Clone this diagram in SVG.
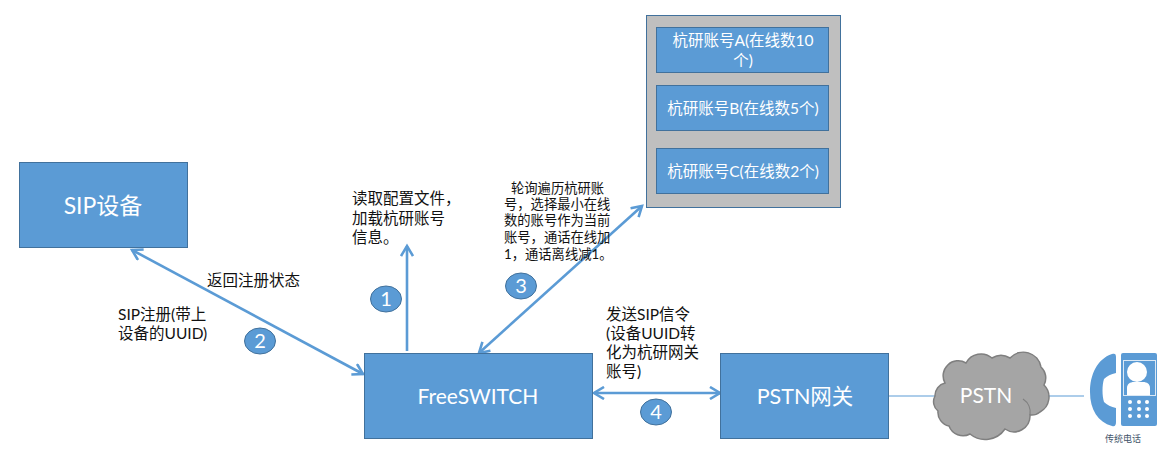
<svg xmlns="http://www.w3.org/2000/svg" width="1174" height="475" viewBox="0 0 1174 475">
<style>
text{font-family:"Lato","Noto Sans CJK SC",sans-serif}
.box{fill:#5B9BD5;stroke:#41719C;stroke-width:1}
.w{fill:#fff;text-anchor:middle}
.k{fill:#111;font-size:15.500px}
.s{fill:#111;font-size:13.300px}
.c{fill:none;stroke:#5B9BD5;stroke-width:2.600}
.h{fill:none;stroke:#5B9BD5;stroke-width:2.600}
.t{stroke:#5B9BD5;stroke-width:1;fill:none}
.b{fill:#5B9BD5;stroke:#41719C;stroke-width:1}
</style>
<defs>
<marker id="a" markerWidth="14" markerHeight="14" refX="11" refY="7" orient="auto-start-reverse" markerUnits="userSpaceOnUse"><path d="M1 1L11 7L1 13" class="h"/></marker>
</defs>
<rect width="1174" height="475" fill="#fff"/>
<g id="connectors">
<path class="c" d="M132 250L363 374" marker-start="url(#a)" marker-end="url(#a)"/>
<path class="c" d="M407 351V246" marker-end="url(#a)"/>
<path class="c" d="M479 353L642 206" marker-start="url(#a)" marker-end="url(#a)"/>
<path class="c" d="M594 393H720" marker-start="url(#a)" marker-end="url(#a)"/>
<path class="t" d="M889 396H936M1046 396H1084"/>
</g>
<g id="sip"><rect class="box" x="19.500" y="162.500" width="168" height="85"/><text class="w" x="103" y="214" font-size="23">SIP设备</text></g>
<g id="freeswitch"><rect class="box" x="364.500" y="353.500" width="228" height="85"/><text class="w" x="478" y="404" font-size="21">FreeSWITCH</text></g>
<g id="gateway"><rect class="box" x="720.500" y="353.500" width="168" height="85"/><text class="w" x="805" y="404" font-size="21.500">PSTN网关</text></g>
<g id="accounts"><rect x="646.500" y="15.500" width="194" height="192" fill="#BFBFBF" stroke="#41719C"/></g>
<g id="accountA"><rect class="box" x="656.500" y="27.500" width="172" height="45"/><text class="w" x="743" y="46" font-size="15.500">杭研账号A(在线数10</text><text class="w" x="743" y="66" font-size="15.500">个)</text></g>
<g id="accountB"><rect class="box" x="656.500" y="85.500" width="172" height="45"/><text class="w" x="743" y="114" font-size="15.500">杭研账号B(在线数5个)</text></g>
<g id="accountC"><rect class="box" x="656.500" y="148.500" width="172" height="45"/><text class="w" x="743" y="177" font-size="15.500">杭研账号C(在线数2个)</text></g>
<g id="cloud"><path d="M935 396A13 13 0 0 1 945 383A15 15 0 0 1 966 363A17 17 0 0 1 992 358A17 17 0 0 1 1010 358A18 18 0 0 1 1041 367A15 15 0 0 1 1044 385A17 17 0 0 1 1040 412A13 13 0 0 1 1030 415A16 16 0 0 1 1005 429A24 24 0 0 1 970 434A15 15 0 0 1 949 426A14 14 0 0 1 938 411A12 12 0 0 1 935 396Z" fill="#A5A5A5" stroke="#7F7F7F" stroke-width="1.500"/><path d="M1023 399A16 16 0 0 1 1030 415" fill="none" stroke="#7F7F7F" stroke-width="1.200"/><text class="w" x="986" y="403" font-size="21">PSTN</text></g>
<g id="phone">
<path d="M1112 354C1097 359 1090 375 1090 392C1090 410 1098 422 1112 426C1115 427 1116 425 1116 422V408C1111 407 1107 405 1104 402C1102 396 1102 385 1104 379C1107 376 1111 374 1116 373V357C1116 354 1115 353 1112 354Z" fill="#5B9BD5"/>
<rect x="1121" y="353" width="36" height="73" rx="2" fill="#5B9BD5"/>
<rect x="1123.500" y="360.500" width="32" height="35" fill="none" stroke="#DCE9F5"/>
<circle cx="1137" cy="372" r="10" fill="#fff"/>
<path d="M1127 395V388C1127 384 1130 382 1134 382H1143C1147 382 1150 384 1150 388V395Z" fill="#fff"/>
<g fill="#fff"><circle cx="1130" cy="402" r="2"/><circle cx="1139" cy="402" r="2"/><circle cx="1147" cy="402" r="2"/><circle cx="1130" cy="409" r="2"/><circle cx="1139" cy="409" r="2"/><circle cx="1147" cy="409" r="2"/><circle cx="1130" cy="416" r="2"/><circle cx="1139" cy="416" r="2"/><circle cx="1147" cy="416" r="2"/></g>
<text x="1123" y="442" font-size="9" fill="#44546A" text-anchor="middle">传统电话</text>
</g>
<g id="badge1"><ellipse class="b" cx="386" cy="299" rx="15.500" ry="13"/><text class="w" x="386" y="306" font-size="20">1</text></g>
<g id="badge2"><ellipse class="b" cx="260" cy="341" rx="15.500" ry="13"/><text class="w" x="260" y="348" font-size="20">2</text></g>
<g id="badge3"><ellipse class="b" cx="521" cy="286" rx="15.500" ry="13"/><text class="w" x="521" y="293" font-size="20">3</text></g>
<g id="badge4"><ellipse class="b" cx="656" cy="412" rx="15.500" ry="13"/><text class="w" x="656" y="419" font-size="20">4</text></g>
<g id="labels">
<text class="k" x="352" y="204">读取配置文件，</text><text class="k" x="352" y="224">加载杭研账号</text><text class="k" x="352" y="243">信息。</text>
<text class="k" x="207" y="286">返回注册状态</text>
<text class="k" x="118" y="320">SIP注册(带上</text><text class="k" x="118" y="339">设备的UUID)</text>
<text class="s" x="511" y="193">轮询遍历杭研账</text><text class="s" x="504" y="209">号，选择最小在线</text><text class="s" x="504" y="225">数的账号作为当前</text><text class="s" x="504" y="242">账号，通话在线加</text><text class="s" x="504" y="259">1，通话离线减1。</text>
<text class="k" x="606" y="320">发送SIP信令</text><text class="k" x="606" y="339">(设备UUID转</text><text class="k" x="606" y="358">化为杭研网关</text><text class="k" x="606" y="377">账号)</text>
</g>
</svg>
